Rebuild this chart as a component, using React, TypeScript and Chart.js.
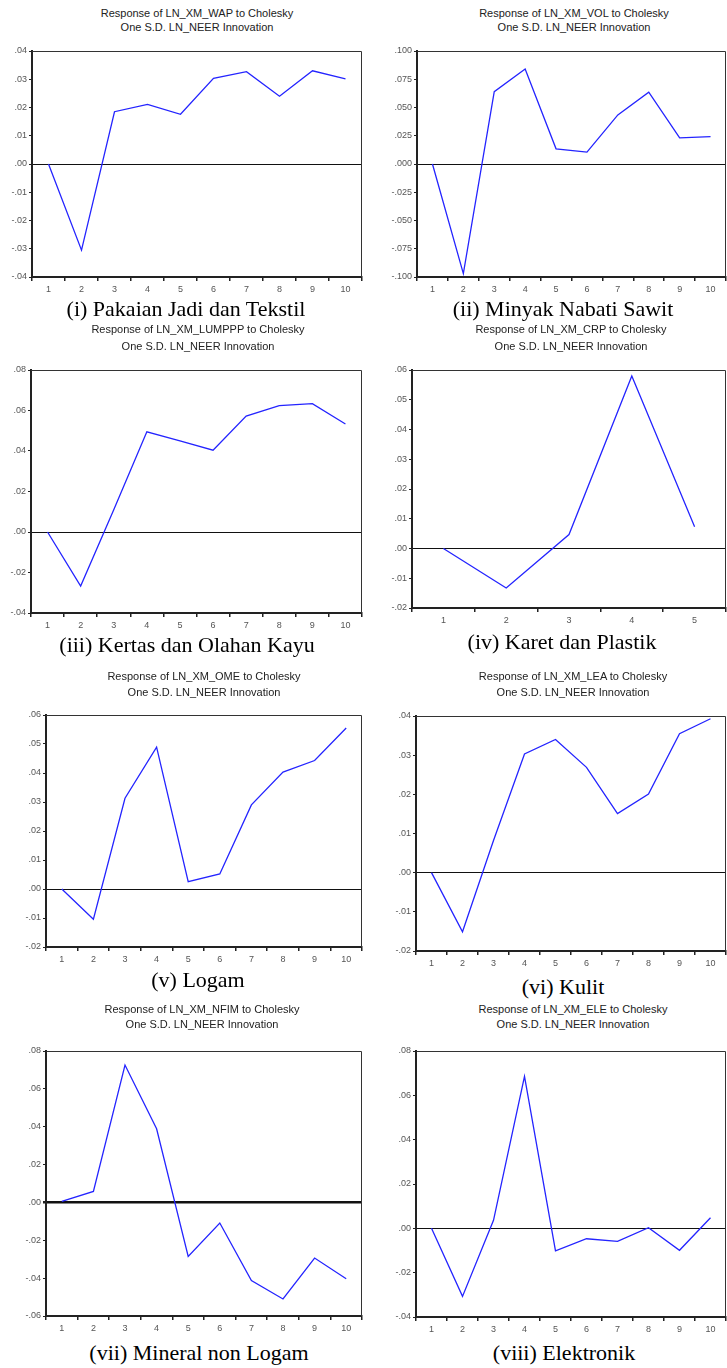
import React, { useEffect, useRef } from "react";
import { Chart, registerables } from "chart.js";

Chart.register(...registerables);

// ---- Data ----
const periods10 = ["1", "2", "3", "4", "5", "6", "7", "8", "9", "10"];
const periods5 = ["1", "2", "3", "4", "5"];

const wapValues = [0.0, -0.0305, 0.0185, 0.0211, 0.0176, 0.0303, 0.0327, 0.024, 0.033, 0.0301];
const volValues = [0.0, -0.097, 0.064, 0.084, 0.0134, 0.0105, 0.0434, 0.0635, 0.0231, 0.0243];
const lumpppValues = [0.0, -0.0267, 0.011, 0.0495, 0.045, 0.0404, 0.0572, 0.0624, 0.0634, 0.0533];
const crpValues = [0.0, -0.0133, 0.0047, 0.058, 0.0073];
const omeValues = [0.0, -0.0104, 0.0313, 0.0489, 0.0025, 0.0052, 0.029, 0.0403, 0.0443, 0.0555];
const leaValues = [0.0, -0.0151, 0.0082, 0.0303, 0.034, 0.0269, 0.0151, 0.0201, 0.0355, 0.0393];
const nfimValues = [0.0005, 0.0058, 0.0726, 0.0389, -0.0285, -0.0109, -0.0413, -0.051, -0.0294, -0.0403];
const eleValues = [0.0, -0.0307, 0.0036, 0.0686, -0.0102, -0.0047, -0.0059, 0.0003, -0.0099, 0.0048];

const yTicksWap = [-0.04, -0.03, -0.02, -0.01, 0, 0.01, 0.02, 0.03, 0.04];
const yTicksVol = [-0.1, -0.075, -0.05, -0.025, 0, 0.025, 0.05, 0.075, 0.1];
const yTicksLumppp = [-0.04, -0.02, 0, 0.02, 0.04, 0.06, 0.08];
const yTicksCrp = [-0.02, -0.01, 0, 0.01, 0.02, 0.03, 0.04, 0.05, 0.06];
const yTicksOme = [-0.02, -0.01, 0, 0.01, 0.02, 0.03, 0.04, 0.05, 0.06];
const yTicksLea = [-0.02, -0.01, 0, 0.01, 0.02, 0.03, 0.04];
const yTicksNfim = [-0.06, -0.04, -0.02, 0, 0.02, 0.04, 0.06, 0.08];
const yTicksEle = [-0.04, -0.02, 0, 0.02, 0.04, 0.06, 0.08];

const titles1 = [
  "Response of LN_XM_WAP to Cholesky",
  "Response of LN_XM_VOL to Cholesky",
  "Response of LN_XM_LUMPPP to Cholesky",
  "Response of LN_XM_CRP to Cholesky",
  "Response of LN_XM_OME to Cholesky",
  "Response of LN_XM_LEA to Cholesky",
  "Response of LN_XM_NFIM to Cholesky",
  "Response of LN_XM_ELE to Cholesky",
];
const title2 = "One S.D. LN_NEER Innovation";
const captions = [
  "(i) Pakaian Jadi dan Tekstil",
  "(ii) Minyak Nabati Sawit",
  "(iii) Kertas dan Olahan Kayu",
  "(iv) Karet dan Plastik",
  "(v) Logam",
  "(vi) Kulit",
  "(vii) Mineral non Logam",
  "(viii) Elektronik",
];

// ---- Layout (pixels) ----
type PanelCfg = {
  labels: string[];
  values: number[];
  yTicks: number[];
  decimals: number;
  rect: [number, number, number, number]; // L, T, R, B of plot area
  titleCx: number;
  titleY: [number, number];
  capCx: number;
  capY: number;
  zeroWidth: number;
};

const panels: PanelCfg[] = [
  { labels: periods10, values: wapValues, yTicks: yTicksWap, decimals: 2, rect: [32, 51, 362, 277], titleCx: 197, titleY: [13, 27], capCx: 186, capY: 309, zeroWidth: 1 },
  { labels: periods10, values: volValues, yTicks: yTicksVol, decimals: 3, rect: [417, 51, 726, 277], titleCx: 574, titleY: [13, 27], capCx: 563, capY: 309, zeroWidth: 1 },
  { labels: periods10, values: lumpppValues, yTicks: yTicksLumppp, decimals: 2, rect: [31, 370, 362, 613], titleCx: 198, titleY: [329, 346], capCx: 187, capY: 645, zeroWidth: 1 },
  { labels: periods5, values: crpValues, yTicks: yTicksCrp, decimals: 2, rect: [412, 370, 726, 608], titleCx: 571, titleY: [329, 346], capCx: 562, capY: 642, zeroWidth: 1 },
  { labels: periods10, values: omeValues, yTicks: yTicksOme, decimals: 2, rect: [46, 715, 362, 947], titleCx: 204, titleY: [676, 692], capCx: 198, capY: 980, zeroWidth: 1 },
  { labels: periods10, values: leaValues, yTicks: yTicksLea, decimals: 2, rect: [416, 716, 726, 951], titleCx: 573, titleY: [676, 692], capCx: 563, capY: 987, zeroWidth: 1 },
  { labels: periods10, values: nfimValues, yTicks: yTicksNfim, decimals: 2, rect: [46, 1051, 362, 1316], titleCx: 202, titleY: [1009, 1024], capCx: 199, capY: 1353, zeroWidth: 2.5 },
  { labels: periods10, values: eleValues, yTicks: yTicksEle, decimals: 2, rect: [416, 1051, 726, 1317], titleCx: 573, titleY: [1009, 1024], capCx: 564, capY: 1353, zeroWidth: 1 },
];

const Y_AXIS_W = 30;
const X_AXIS_H = 22;
const PAD_TOP = 10;
const PAD_RIGHT = 1;

function fmt(v: number, dec: number): string {
  const s = Math.abs(v).toFixed(dec).replace(/^0/, "");
  return (v < -1e-9 ? "-" : "") + s;
}

const framePlugin = {
  id: "frame",
  afterDraw(chart: any) {
    const { ctx, chartArea } = chart;
    ctx.save();
    ctx.strokeStyle = "#333";
    ctx.lineWidth = 1;
    ctx.beginPath();
    ctx.moveTo(chartArea.left, chartArea.top + 0.5);
    ctx.lineTo(chartArea.right - 0.5, chartArea.top + 0.5);
    ctx.lineTo(chartArea.right - 0.5, chartArea.bottom);
    ctx.stroke();
    ctx.restore();
  },
};

function Panel({ cfg, idx }: { cfg: PanelCfg; idx: number }) {
  const ref = useRef<HTMLCanvasElement | null>(null);
  const [L, T, R, B] = cfg.rect;
  const cw = R - L + Y_AXIS_W + PAD_RIGHT;
  const ch = B - T + PAD_TOP + X_AXIS_H;

  useEffect(() => {
    if (!ref.current) return;
    const yMin = cfg.yTicks[0];
    const yMax = cfg.yTicks[cfg.yTicks.length - 1];
    const chart = new Chart(ref.current, {
      type: "line",
      data: {
        labels: cfg.labels,
        datasets: [
          {
            data: cfg.values,
            borderColor: "#2424ff",
            borderWidth: 1.3,
            pointRadius: 0,
            tension: 0,
            fill: false,
          },
        ],
      },
      options: {
        animation: false,
        responsive: false,
        maintainAspectRatio: false,
        layout: { padding: { top: PAD_TOP, right: PAD_RIGHT, left: 0, bottom: 0 } },
        plugins: { legend: { display: false }, tooltip: { enabled: false }, title: { display: false } },
        scales: {
          x: {
            type: "category",
            offset: true,
            afterFit: (s: any) => {
              s.height = X_AXIS_H;
            },
            border: { display: true, color: "#222", width: 2 },
            grid: {
              offset: true,
              drawOnChartArea: false,
              drawTicks: true,
              tickLength: 4,
              tickColor: "#222",
              lineWidth: 1.5,
            },
            ticks: {
              color: "#555",
              font: { family: "Liberation Sans", size: 9 },
              padding: 3,
              maxRotation: 0,
              autoSkip: false,
            },
          },
          y: {
            type: "linear",
            min: yMin,
            max: yMax,
            afterFit: (s: any) => {
              s.width = Y_AXIS_W;
            },
            afterBuildTicks: (s: any) => {
              s.ticks = cfg.yTicks.map((v) => ({ value: v }));
            },
            border: { display: true, color: "#222", width: 2 },
            grid: {
              drawOnChartArea: true,
              drawTicks: true,
              tickLength: 3,
              tickColor: "#222",
              color: (c: any) => (c.tick && Math.abs(c.tick.value) < 1e-9 ? "#111" : "rgba(0,0,0,0)"),
              lineWidth: (c: any) => (c.tick && Math.abs(c.tick.value) < 1e-9 ? cfg.zeroWidth : 1),
            },
            ticks: {
              color: "#555",
              font: { family: "Liberation Sans", size: 9 },
              padding: 2,
              callback: (v: any) => fmt(Number(v), cfg.decimals),
            },
          },
        },
      },
      plugins: [framePlugin],
    });
    return () => chart.destroy();
  }, [cfg]);

  const titleStyle: React.CSSProperties = {
    position: "absolute",
    transform: "translate(-50%, -50%)",
    whiteSpace: "nowrap",
    fontFamily: "'Liberation Sans', Arial, sans-serif",
    fontSize: 11,
    color: "#222",
    lineHeight: "12px",
  };

  return (
    <>
      <div style={{ ...titleStyle, left: cfg.titleCx, top: cfg.titleY[0] }}>{titles1[idx]}</div>
      <div style={{ ...titleStyle, left: cfg.titleCx, top: cfg.titleY[1] }}>{title2}</div>
      <canvas
        ref={ref}
        width={cw}
        height={ch}
        style={{ position: "absolute", left: L - Y_AXIS_W, top: T - PAD_TOP, width: cw, height: ch }}
      />
      <div
        style={{
          position: "absolute",
          left: cfg.capCx,
          top: cfg.capY,
          transform: "translate(-50%, -50%)",
          whiteSpace: "nowrap",
          fontFamily: "'Liberation Serif', 'Times New Roman', serif",
          fontSize: 22,
          color: "#000",
          lineHeight: "24px",
        }}
      >
        {captions[idx]}
      </div>
    </>
  );
}

export default function App() {
  return (
    <div
      style={{
        position: "absolute",
        left: 0,
        top: 0,
        width: 727,
        height: 1368,
        background: "#fff",
        overflow: "hidden",
      }}
    >
      {panels.map((p, i) => (
        <Panel key={i} cfg={p} idx={i} />
      ))}
    </div>
  );
}
